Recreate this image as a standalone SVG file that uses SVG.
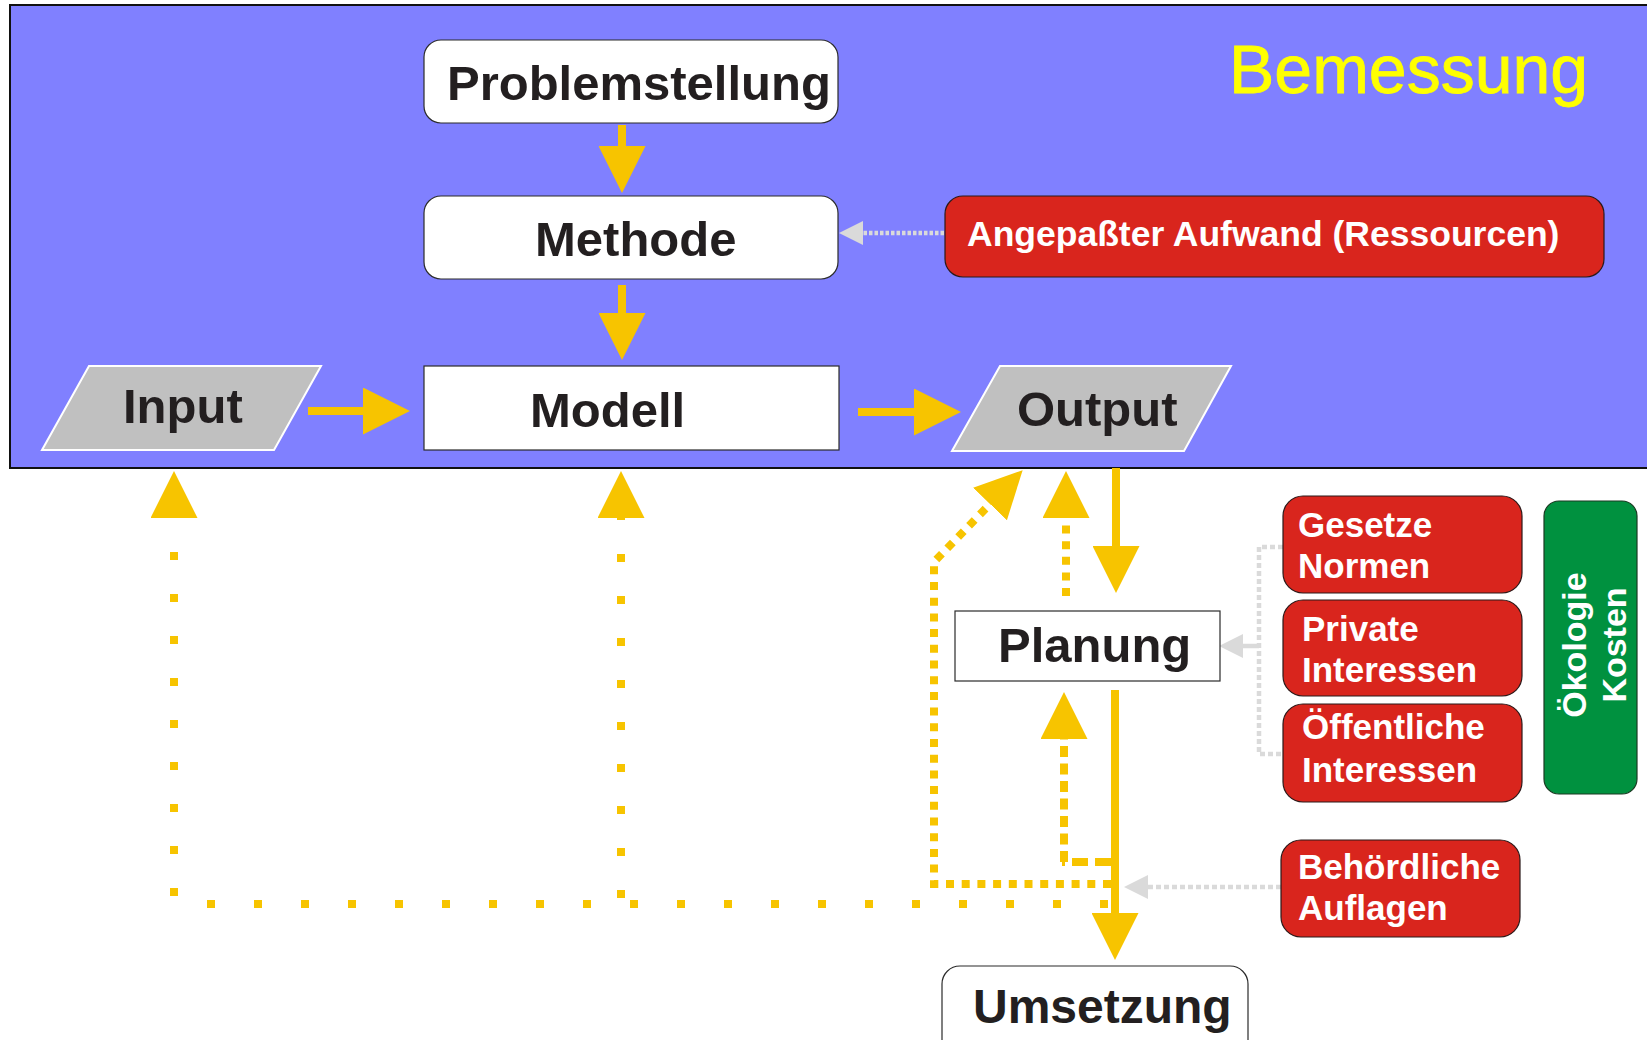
<svg xmlns="http://www.w3.org/2000/svg" width="1647" height="1040" viewBox="0 0 1647 1040">
<style>
text{font-family:"Liberation Sans",Arial,sans-serif;font-weight:bold}
.lbl{font-size:49px;fill:#231F20}
.wt{font-size:35px;fill:#FFFFFF}
.box{fill:#FFFFFF;stroke:#2B2B2B;stroke-width:1.2}
.red{fill:#D9251D;stroke:#2B1A1A;stroke-width:1.2}
.para{fill:#C0C0C0;stroke:#FFFFFF;stroke-width:2}
.y{fill:none;stroke:#F7C400;stroke-width:8}
.g{fill:none;stroke:#DADADA;stroke-width:4.5}
</style>
<defs>
<marker id="ya" markerUnits="userSpaceOnUse" viewBox="0 0 47 47" markerWidth="47" markerHeight="47" refX="0" refY="23.5" orient="auto">
<path d="M0 0 L47 23.5 L0 47 Z" fill="#F7C400"/>
</marker>
<marker id="ga" markerUnits="userSpaceOnUse" viewBox="0 0 24 24" markerWidth="24" markerHeight="24" refX="0" refY="12" orient="auto">
<path d="M0 0 L24 12 L0 24 Z" fill="#DADADA"/>
</marker>
</defs>

<g id="bemessung">
<rect x="10" y="5" width="1645" height="463" fill="#8080FF" stroke="#111111" stroke-width="2"/>
<text x="1229" y="93" style="font-size:68px;font-weight:normal;fill:#FFFF00;stroke:#FFFF00;stroke-width:0.8">Bemessung</text>
</g>

<g id="connectors">
<path class="y" d="M622 125 V146" marker-end="url(#ya)"/>
<path class="y" d="M622 285 V313" marker-end="url(#ya)"/>
<path class="y" d="M308 411 H363" marker-end="url(#ya)"/>
<path class="y" d="M858 412 H914" marker-end="url(#ya)"/>
<path class="y" d="M1116 468 V546" marker-end="url(#ya)"/>
<path class="y" d="M1115 690 V913" marker-end="url(#ya)"/>
<path class="y" d="M174 896 V518" stroke-dasharray="8 34" marker-end="url(#ya)"/>
<path class="y" d="M621 898 V518" stroke-dasharray="8 34" marker-end="url(#ya)"/>
<path class="y" d="M1108 904 H196" stroke-dasharray="8 39"/>
<path class="y" d="M1111 884 H934 V562 L990 504" stroke-dasharray="8 7.7" marker-end="url(#ya)"/>
<path class="y" d="M1066 596 V518" stroke-dasharray="8 7.6" marker-end="url(#ya)"/>
<path class="y" d="M1111 862 H1062" stroke-dasharray="16 7"/>
<path class="y" d="M1064 862 V739" stroke-dasharray="11 6.5" marker-end="url(#ya)"/>
<path class="g" d="M944 233 H863" stroke-width="5" stroke-dasharray="3.5 2" marker-end="url(#ga)"/>
<path class="g" d="M1281 887 H1148" stroke-dasharray="5 3" marker-end="url(#ga)"/>
<path class="g" d="M1283 547 H1259 V754 H1283" stroke-dasharray="5 3"/>
<path class="g" d="M1259 646 H1243" marker-end="url(#ga)"/>
</g>

<g id="problemstellung">
<rect class="box" x="424" y="40" width="414" height="83" rx="17"/>
<text class="lbl" x="447" y="100">Problemstellung</text>
</g>
<g id="methode">
<rect class="box" x="424" y="196" width="414" height="83" rx="17"/>
<text class="lbl" x="535" y="256">Methode</text>
</g>
<g id="modell">
<rect class="box" x="424" y="366" width="415" height="84"/>
<text class="lbl" x="530" y="427">Modell</text>
</g>
<g id="input">
<polygon class="para" points="42,450 89,366 321,366 274,450"/>
<text class="lbl" x="123" y="423">Input</text>
</g>
<g id="output">
<polygon class="para" points="952,451 1000,366 1231,366 1184,451"/>
<text class="lbl" x="1017" y="426">Output</text>
</g>
<g id="aufwand">
<rect class="red" x="945" y="196" width="659" height="81" rx="18"/>
<text class="wt" x="967" y="246" style="font-size:35.5px">Angepaßter Aufwand (Ressourcen)</text>
</g>
<g id="planung">
<rect class="box" x="955" y="611" width="265" height="70"/>
<text class="lbl" x="998" y="662">Planung</text>
</g>
<g id="umsetzung">
<rect class="box" x="942" y="966" width="306" height="110" rx="18"/>
<text class="lbl" x="973" y="1023" style="font-size:48px">Umsetzung</text>
</g>
<g id="gesetze">
<rect class="red" x="1283" y="496" width="239" height="97" rx="20"/>
<text class="wt" x="1298" y="537">Gesetze</text>
<text class="wt" x="1298" y="578">Normen</text>
</g>
<g id="private">
<rect class="red" x="1283" y="600" width="239" height="96" rx="20"/>
<text class="wt" x="1302" y="641">Private</text>
<text class="wt" x="1302" y="682">Interessen</text>
</g>
<g id="oeffentlich">
<rect class="red" x="1283" y="704" width="239" height="98" rx="20"/>
<text class="wt" x="1302" y="739">Öffentliche</text>
<text class="wt" x="1302" y="782">Interessen</text>
</g>
<g id="behoerdlich">
<rect class="red" x="1281" y="840" width="239" height="97" rx="20"/>
<text class="wt" x="1298" y="879">Behördliche</text>
<text class="wt" x="1298" y="920">Auflagen</text>
</g>
<g id="oekologie">
<rect x="1544" y="501" width="93" height="293" rx="15" fill="#00913F" stroke="#1A3A22" stroke-width="1.2"/>
<text class="wt" transform="translate(1586,645) rotate(-90)" text-anchor="middle" style="font-size:34px">Ökologie</text>
<text class="wt" transform="translate(1626,645) rotate(-90)" text-anchor="middle" style="font-size:34px">Kosten</text>
</g>
</svg>
